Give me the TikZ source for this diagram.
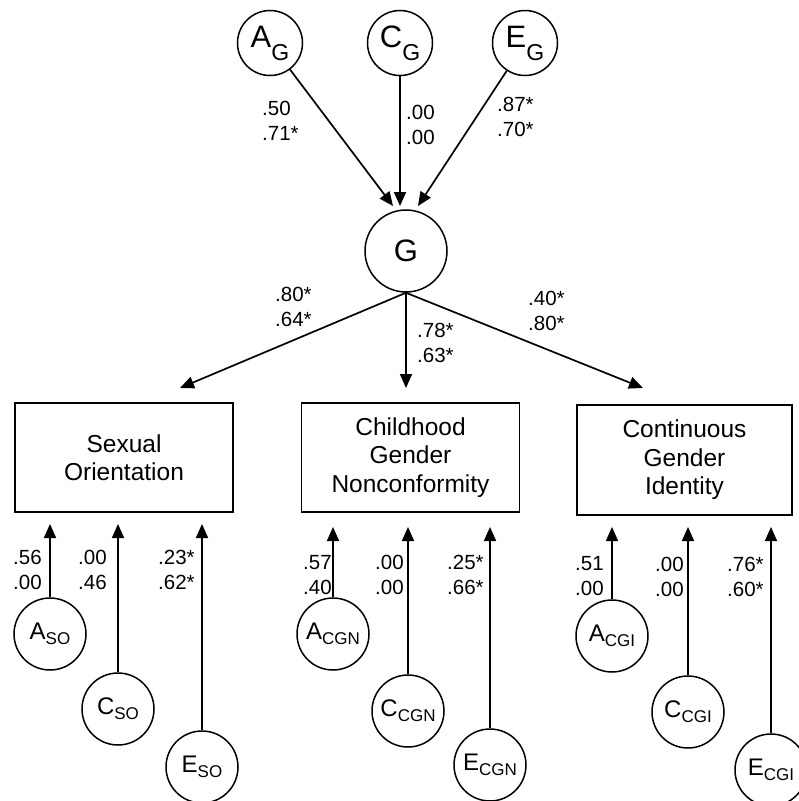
\documentclass[tikz,border=0pt]{standalone}
\usepackage{fontspec}
\setmainfont{Liberation Sans}
\usetikzlibrary{arrows.meta}
\newcommand\topvar[2]{{\fontsize{31}{32}\selectfont #1}\raisebox{-13pt}{\fontsize{23}{24}\selectfont #2}}
\newcommand\botvar[2]{{\fontsize{24}{26}\selectfont #1}\raisebox{-5pt}{\fontsize{17}{18}\selectfont #2}}
\begin{document}
\begin{tikzpicture}[x=1pt,y=-1pt,
  topc/.style={draw, circle, line width=1.5pt, minimum size=65pt, inner sep=0pt},
  botc/.style={draw, circle, line width=1.5pt, minimum size=72pt, inner sep=0pt},
  gc/.style={draw, circle, line width=1.5pt, minimum size=82pt, inner sep=0pt, font=\fontsize{31}{32}\selectfont},
  box/.style={draw, rectangle, line width=1.5pt, minimum width=218pt, minimum height=109pt, align=center, font=\fontsize{24.5}{28.5}\selectfont},
  lbl/.style={anchor=west, align=left, inner sep=0pt, font=\fontsize{20.5}{25}\selectfont},
  arr/.style={line width=1.7pt, -{Triangle[length=14pt,width=12pt]}}]
\useasboundingbox (0,0) rectangle (799,801);

% top latent factors
\node[topc] (AG) at (270,43) {\topvar{A}{G}};
\node[topc] (CG) at (400,43) {\topvar{C}{G}};
\node[topc] (EG) at (525,43) {\topvar{E}{G}};
\node[gc] (G) at (406,251) {G};

\coordinate (tA) at (393,206);
\coordinate (tC) at (400,206);
\coordinate (tE) at (418,206);
\draw[arr] (AG) -- (tA);
\draw[arr] (CG) -- (tC);
\draw[arr] (EG) -- (tE);

\node[lbl] (lAG) at (262,121) {.50\\.71*};
\node[lbl] (lCG) at (406,124.5) {.00\\.00};
\node[lbl] (lEG) at (497,116.5) {.87*\\.70*};

% boxes
\node[box] (SO) at (124,457.5) {Sexual\\Orientation};
\node[box] (CGN) at (410.5,457.5) {Childhood\\Gender\\Nonconformity};
\node[box, minimum width=215pt, minimum height=110pt] (CGI) at (684.5,460) {Continuous\\Gender\\Identity};

\coordinate (tSO) at (180,388);
\coordinate (tCGN) at (406,388);
\coordinate (tCGI) at (643,388);
\draw[arr] (G.south) -- (tSO);
\draw[arr] (G.south) -- (tCGN);
\draw[arr] (G.south) -- (tCGI);

\node[lbl] (lSO) at (275,306.5) {.80*\\.64*};
\node[lbl] (lCGN) at (417,342.5) {.78*\\.63*};
\node[lbl] (lCGI) at (528,310.5) {.40*\\.80*};

% bottom factors
\node[botc] (ASO) at (50,634) {\botvar{A}{SO}};
\node[botc] (CSO) at (118,709) {\botvar{C}{SO}};
\node[botc] (ESO) at (202,767) {\botvar{E}{SO}};
\node[botc] (ACGN) at (333,634) {\botvar{A}{CGN}};
\node[botc] (CCGN) at (408,711) {\botvar{C}{CGN}};
\node[botc] (ECGN) at (490,765) {\botvar{E}{CGN}};
\node[botc] (ACGI) at (612,636) {\botvar{A}{CGI}};
\node[botc] (CCGI) at (688,712) {\botvar{C}{CGI}};
\node[botc] (ECGI) at (771,770) {\botvar{E}{CGI}};

\coordinate (bSO) at (0,524);
\coordinate (bCGN) at (0,527);
\coordinate (bCGI) at (0,527);
\draw[arr] (ASO) -- (ASO |- bSO);
\draw[arr] (CSO) -- (CSO |- bSO);
\draw[arr] (ESO) -- (ESO |- bSO);
\draw[arr] (ACGN) -- (ACGN |- bCGN);
\draw[arr] (CCGN) -- (CCGN |- bCGN);
\draw[arr] (ECGN) -- (ECGN |- bCGN);
\draw[arr] (ACGI) -- (ACGI |- bCGI);
\draw[arr] (CCGI) -- (CCGI |- bCGI);
\draw[arr] (ECGI) -- (ECGI |- bCGI);

\node[lbl] (l1) at (13,569.5) {.56\\.00};
\node[lbl] (l2) at (78,569.5) {.00\\.46};
\node[lbl] (l3) at (158,569.5) {.23*\\.62*};
\node[lbl] (l4) at (303,575) {.57\\.40};
\node[lbl] (l5) at (375,575) {.00\\.00};
\node[lbl] (l6) at (447,575) {.25*\\.66*};
\node[lbl] (l7) at (575,576.5) {.51\\.00};
\node[lbl] (l8) at (655,576.5) {.00\\.00};
\node[lbl] (l9) at (727,576.5) {.76*\\.60*};
\end{tikzpicture}
\end{document}
